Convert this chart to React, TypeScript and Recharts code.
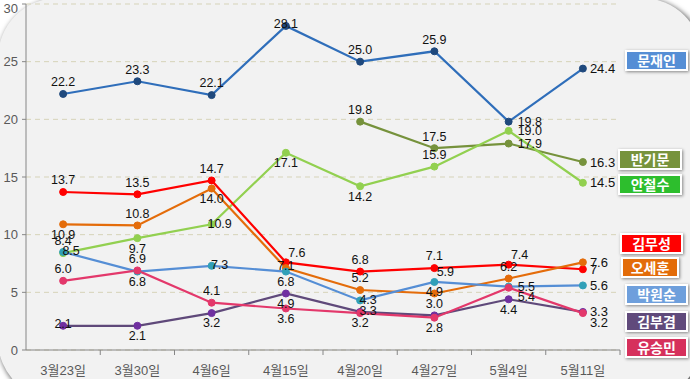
import { CartesianGrid, Line, LineChart, XAxis, YAxis } from "recharts";

const DATES = ["3월23일", "3월30일", "4월6일", "4월15일", "4월20일", "4월27일", "5월4일", "5월11일"];

const MOON = [22.2, 23.3, 22.1, 28.1, 25.0, 25.9, 19.8, 24.4];
const BAN = [null, null, null, null, 19.8, 17.5, 17.9, 16.3];
const AHN = [8.4, 9.7, 10.9, 17.1, 14.2, 15.9, 19.0, 14.5];
const KIM_MS = [13.7, 13.5, 14.7, 7.6, 6.8, 7.1, 7.4, 7];
const OH = [10.9, 10.8, 14.0, 7.1, 5.2, 4.9, 6.2, 7.6];
const PARK = [8.5, 6.8, 7.3, 6.8, 4.3, 5.9, 5.5, 5.6];
const KIM_BG = [2.1, 2.1, 3.2, 4.9, 3.3, 3.0, 4.4, 3.3];
const YOO = [6.0, 6.9, 4.1, 3.6, 3.2, 2.8, 5.4, 3.2];

const Y_TICKS = [0, 5, 10, 15, 20, 25, 30];

const FONT = '"Liberation Sans", Arial, "Noto Sans CJK KR", sans-serif';
const AXIS = "#868686";
const TICK_TXT = "#595959";

// label placement codes per point (t=above, b=below, r=right, c=on point ...)
const SERIES = [
  { key: "moon", data: MOON, stroke: "#2F6EBA", dot: "#1F497D", pos: ["t", "t", "t", "c", "t", "t", "r", "r"] },
  { key: "ban", data: BAN, stroke: "#76923C", dot: "#76923C", pos: ["", "", "", "", "t", "t", "r", "r"] },
  { key: "ahn", data: AHN, stroke: "#92D050", dot: "#92D050", pos: ["t", "b", "cr", "b", "b", "t", "r", "r"] },
  { key: "kimms", data: KIM_MS, stroke: "#FF0000", dot: "#FF0000", pos: ["t", "t", "t", "tr", "t", "t", "tr", "r"], plainLast: true },
  { key: "oh", data: OH, stroke: "#E46C0A", dot: "#E46C0A", pos: ["b", "t", "b", "c", "t", "c", "t", "r"] },
  { key: "park", data: PARK, stroke: "#558ED5", dot: "#31A0B8", pos: ["cr", "b", "cr", "b", "cr", "tr", "r", "r"] },
  { key: "kimbg", data: KIM_BG, stroke: "#5F497A", dot: "#7030A0", pos: ["c", "b", "b", "b", "cr", "t", "b", "r"] },
  { key: "yoo", data: YOO, stroke: "#E3386B", dot: "#E3386B", pos: ["t", "t", "t", "b", "b", "b", "br", "br"] },
];

const LEGEND = [
  { name: "문재인", bg: "#558ED5", left: 625, top: 50, w: 63 },
  { name: "반기문", bg: "#77933C", left: 618, top: 149, w: 64 },
  { name: "안철수", bg: "#2DBE2D", left: 618, top: 174, w: 64 },
  { name: "김무성", bg: "#FF0000", left: 620, top: 233, w: 63 },
  { name: "오세훈", bg: "#E36C09", left: 621, top: 257, w: 58 },
  { name: "박원순", bg: "#6E9FDC", left: 625, top: 284, w: 63 },
  { name: "김부겸", bg: "#604A7B", left: 625, top: 311, w: 63 },
  { name: "유승민", bg: "#D6305C", left: 625, top: 337, w: 63 },
];

const rows = DATES.map((d, i) => {
  const r: Record<string, unknown> = { date: d };
  SERIES.forEach((s) => (r[s.key] = s.data[i]));
  return r;
});

const W = 690;
const H = 379;
const PLOT_L = 26;
const PLOT_R = 620;
const BAND = (PLOT_R - PLOT_L) / DATES.length;

const OFFS: Record<string, { dx: number; dy: number; anchor: string }> = {
  t: { dx: 0, dy: -12, anchor: "middle" },
  b: { dx: 0, dy: 10, anchor: "middle" },
  r: { dx: 9, dy: 0, anchor: "start" },
  c: { dx: 0, dy: -2, anchor: "middle" },
  cr: { dx: 8, dy: -1, anchor: "middle" },
  tr: { dx: 11, dy: -10, anchor: "middle" },
  br: { dx: 9, dy: 9, anchor: "start" },
};

function makeLabel(s: (typeof SERIES)[number]) {
  return (p: any) => {
    const { x, y, value, index } = p;
    if (value == null || x == null) return null;
    const o = OFFS[s.pos[index]] ?? OFFS.t;
    const last = index === DATES.length - 1;
    const txt = last && s.plainLast ? String(value) : Number(value).toFixed(1);
    return (
      <text
        key={`${s.key}-${index}`}
        x={x + (last ? o.dx - 2 : o.dx)}
        y={y + o.dy}
        dy="0.35em"
        textAnchor={o.anchor}
        fontFamily={FONT}
        fontSize={last ? 13 : 12.5}
        fill="#111"
      >
        {txt}
      </text>
    );
  };
}

function XTick(p: any) {
  const { x, y, payload, index } = p;
  const ticks = [x - BAND / 2];
  if (index === DATES.length - 1) ticks.push(x + BAND / 2);
  return (
    <g>
      {index > 0 && <line x1={ticks[0]} x2={ticks[0]} y1={y} y2={y + 5} stroke={AXIS} />}
      {ticks.length > 1 && <line x1={ticks[1]} x2={ticks[1]} y1={y} y2={y + 5} stroke={AXIS} />}
      <text x={x} y={y + 20} dy="0.35em" textAnchor="middle" fontFamily={FONT} fontSize={13} fill={TICK_TXT}>
        {payload.value}
      </text>
    </g>
  );
}

export default function App() {
  return (
    <div style={{ position: "fixed", left: 0, top: 0, width: W, height: H, overflow: "hidden", background: "#fff" }}>
      <div
        style={{
          position: "absolute",
          left: -2,
          top: -2,
          width: 704,
          height: 402,
          borderRadius: 60,
          background: "#F2F2F2",
          boxShadow: "2px 2px 5px 1px rgba(0,0,0,0.6)",
        }}
      />
      <div style={{ position: "absolute", left: 0, top: 0 }}>
        <LineChart width={W} height={H} data={rows} margin={{ top: 4, right: W - PLOT_R, bottom: 0, left: 0 }}>
          <CartesianGrid vertical={false} stroke="#D6D3B8" strokeDasharray="5 4" />
          <XAxis
            dataKey="date"
            height={29}
            padding={{ left: BAND / 2, right: BAND / 2 }}
            axisLine={{ stroke: AXIS }}
            tickLine={false}
            tickSize={0}
            tickMargin={0}
            tick={<XTick />}
            interval={0}
          />
          <YAxis
            width={PLOT_L}
            domain={[0, 30]}
            ticks={Y_TICKS}
            axisLine={{ stroke: AXIS }}
            tickLine={{ stroke: AXIS }}
            tickSize={4}
            tickMargin={4}
            tick={{ fill: TICK_TXT, fontSize: 13, fontFamily: FONT }}
          />
          {SERIES.map((s) => (
            <Line
              key={s.key}
              dataKey={s.key}
              type="linear"
              stroke={s.stroke}
              strokeWidth={2.2}
              dot={{ r: 3.5, fill: s.dot, stroke: s.dot, strokeWidth: 1 }}
              activeDot={false}
              isAnimationActive={false}
              label={makeLabel(s)}
            />
          ))}
        </LineChart>
      </div>
      {LEGEND.map((l) => (
        <div
          key={l.name}
          style={{
            position: "absolute",
            left: l.left,
            top: l.top,
            width: l.w,
            height: 21,
            boxSizing: "border-box",
            background: l.bg,
            border: "2px solid #fff",
            boxShadow: "1px 1px 3px rgba(0,0,0,0.45)",
            color: "#fff",
            fontFamily: '"Noto Sans CJK KR", sans-serif',
            fontWeight: 700,
            fontSize: 14,
            lineHeight: "17px",
            textAlign: "center",
          }}
        >
          {l.name}
        </div>
      ))}
    </div>
  );
}
